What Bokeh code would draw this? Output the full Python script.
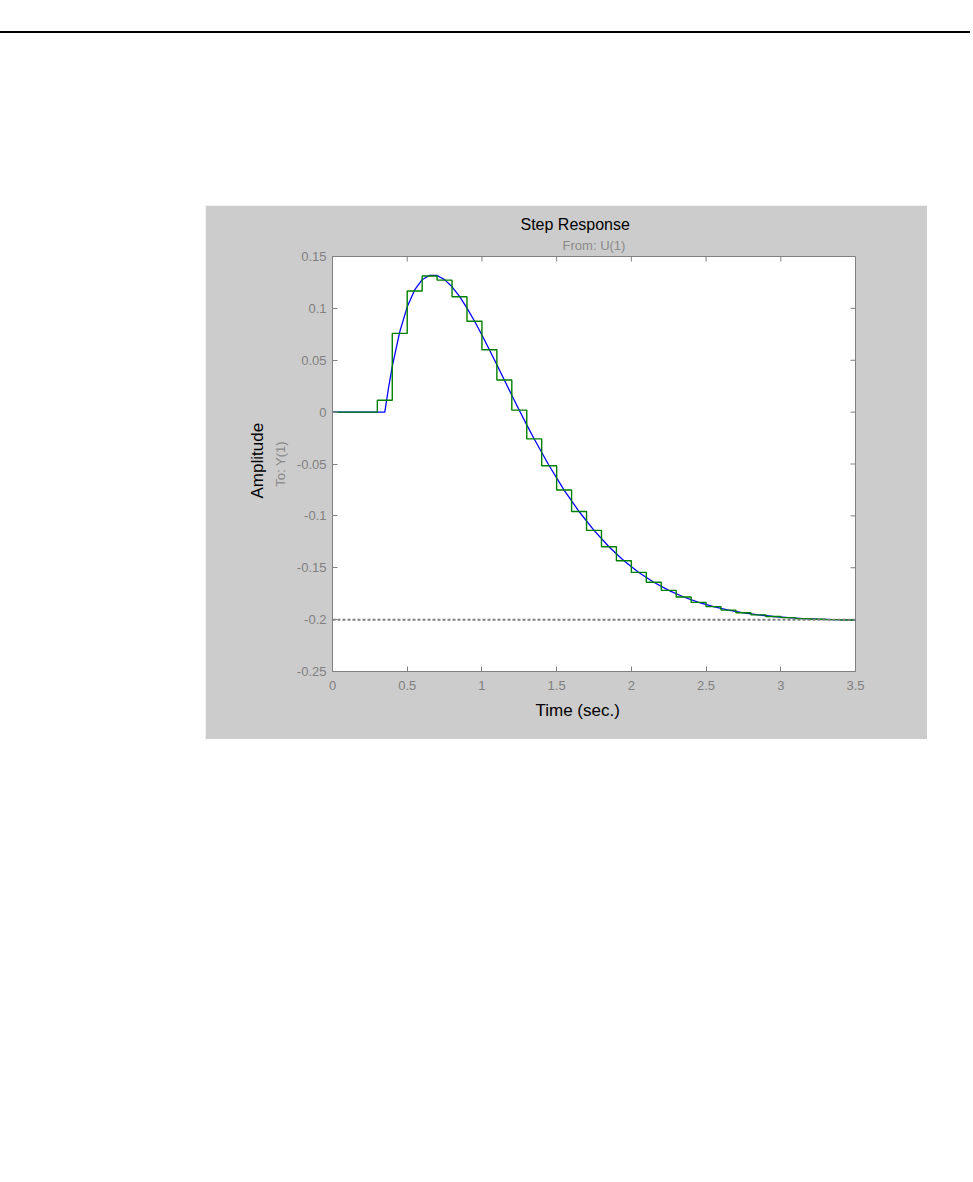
from bokeh.plotting import figure
from bokeh.models import (Range1d, FixedTicker, LinearAxis, Span, Div, Spacer, Title)
from bokeh.layouts import column, row
from bokeh.embed import file_html
from bokeh.resources import INLINE

# ---------------- data ----------------
# continuous-time step response (blue)
t_cont = [0.0, 0.35, 0.375, 0.40, 0.45, 0.50, 0.55, 0.60, 0.65, 0.70, 0.75, 0.80,
          0.85, 0.90, 0.95, 1.00, 1.05, 1.10, 1.15, 1.20, 1.25, 1.30, 1.35,
          1.45, 1.55, 1.65, 1.75, 1.85, 1.95, 2.05, 2.15, 2.25, 2.35, 2.45,
          2.55, 2.65, 2.75, 2.85, 2.95, 3.05, 3.15, 3.25, 3.35, 3.45, 3.50]
y_cont = [0.0, 0.0, 0.0235, 0.0441, 0.0774, 0.1015, 0.1178, 0.1276, 0.1319, 0.1317,
          0.1277, 0.1208, 0.1115, 0.1003, 0.0878, 0.0743, 0.0601, 0.0456, 0.0309,
          0.0163, 0.0018, -0.0123, -0.0259,
          -0.0517, -0.0751, -0.0958, -0.1140, -0.1298, -0.1432, -0.1545, -0.1640,
          -0.1718, -0.1782, -0.1834, -0.1875, -0.1908, -0.1934, -0.1954, -0.1970,
          -0.1981, -0.1990, -0.1996, -0.2000, -0.2003, -0.2004]

# discretized step response (green stairs), sample time 0.1 s
t_disc = [0.0, 0.1, 0.2, 0.3, 0.4, 0.5, 0.6, 0.7, 0.8, 0.9, 1.0, 1.1, 1.2, 1.3,
          1.4, 1.5, 1.6, 1.7, 1.8, 1.9, 2.0, 2.1, 2.2, 2.3, 2.4, 2.5, 2.6, 2.7,
          2.8, 2.9, 3.0, 3.1, 3.2, 3.3, 3.4]
y_disc = [0.0, 0.0, 0.0, 0.0115, 0.0759, 0.1167, 0.1312, 0.1272, 0.1112, 0.0876,
          0.0601, 0.0309, 0.0019, -0.0258, -0.0517, -0.0751, -0.0958, -0.1140,
          -0.1298, -0.1432, -0.1545, -0.1640, -0.1718, -0.1782, -0.1834, -0.1875,
          -0.1908, -0.1934, -0.1954, -0.1970, -0.1981, -0.1990, -0.1996, -0.2000,
          -0.2003]

steady_state = -0.2

x_ticks = [0, 0.5, 1, 1.5, 2, 2.5, 3, 3.5]
x_tick_labels = ["0", "0.5", "1", "1.5", "2", "2.5", "3", "3.5"]
y_ticks = [-0.25, -0.2, -0.15, -0.1, -0.05, 0, 0.05, 0.1, 0.15]
y_tick_labels = ["-0.25", "-0.2", "-0.15", "-0.1", "-0.05", "0", "0.05", "0.1", "0.15"]

title_text = "Step Response"
from_text = "From: U(1)"
to_text = "To: Y(1)"
xlabel_text = "Time (sec.)"
ylabel_text = "Amplitude"

# ---------------- figure ----------------
FONT = "Liberation Sans"
GRAY = "#808080"
SUBGRAY = "#8a8a8a"
PANEL = "#cccccc"

x0, x1 = x_ticks[0], x_ticks[-1]
y0, y1 = y_ticks[0], y_ticks[-1]
FRAME_W, FRAME_H = 523.0, 415.0

p = figure(width=722, height=534, output_backend="svg", toolbar_location=None,
           x_range=Range1d(x0, x1), y_range=Range1d(y0, y1),
           x_axis_location=None, y_axis_location=None,
           min_border_left=127, min_border_right=72,
           min_border_top=51, min_border_bottom=68)
p.title = None
p.border_fill_color = PANEL
p.background_fill_color = "white"
p.outline_line_color = GRAY
p.outline_line_width = 1
p.grid.visible = False


def make_axis(ticks, labels, standoff):
    ax = LinearAxis(ticker=FixedTicker(ticks=ticks),
                    major_label_overrides={t: l for t, l in zip(ticks, labels)})
    ax.axis_line_color = GRAY
    ax.major_tick_line_color = GRAY
    ax.major_tick_in = 5
    ax.major_tick_out = 0
    ax.minor_tick_line_color = None
    ax.major_label_text_font = FONT
    ax.major_label_text_color = GRAY
    ax.major_label_text_font_size = "13px"
    ax.major_label_standoff = standoff
    ax.axis_label_text_font = FONT
    ax.axis_label_text_font_style = "normal"
    return ax


xaxis = make_axis(x_ticks, x_tick_labels, 9)
p.add_layout(xaxis, "below")

yaxis = make_axis(y_ticks, y_tick_labels, 6)
yaxis.axis_label = to_text
yaxis.axis_label_text_font_size = "13px"
yaxis.axis_label_text_color = SUBGRAY
yaxis.axis_label_standoff = 6
p.add_layout(yaxis, "left")

# x-axis label as a title below the axis
p.add_layout(Title(text=xlabel_text, align="left", offset=203, standoff=12,
                   text_font=FONT, text_font_size="17px",
                   text_font_style="normal", text_color="black"), "below")

# left outer title: Amplitude
p.add_layout(Title(text=ylabel_text, align="left", offset=173, standoff=6,
                   text_font=FONT, text_font_size="17px",
                   text_font_style="normal", text_color="black"), "left")

# titles above (first added is nearest to the frame)
p.add_layout(Title(text=from_text, align="center", standoff=7,
                   text_font=FONT, text_font_size="13px",
                   text_font_style="normal", text_color=SUBGRAY), "above")
p.add_layout(Title(text=title_text, align="left", offset=188, standoff=0,
                   text_font=FONT, text_font_size="16px",
                   text_font_style="normal", text_color="black"), "above")

# inward ticks on the top and right edges of the box
tick_len_x = 5 * (x1 - x0) / FRAME_W
tick_len_y = 5 * (y1 - y0) / FRAME_H
p.segment(x0=x_ticks, y0=[y1] * len(x_ticks), x1=x_ticks,
          y1=[y1 - tick_len_y] * len(x_ticks), line_color=GRAY, line_width=1)
p.segment(x0=[x1] * len(y_ticks), y0=y_ticks, x1=[x1 - tick_len_x] * len(y_ticks),
          y1=y_ticks, line_color=GRAY, line_width=1)

# steady-state reference
p.add_layout(Span(location=steady_state, dimension="width", line_color=GRAY,
                  line_width=2, line_dash="3 2"))

# curves
p.line(t_cont, y_cont, line_color="#0000ff", line_width=1.3)
p.step(t_disc + [x1], y_disc + [y_disc[-1]], mode="after",
       line_color="#008000", line_width=1.4)

top = Div(text=(
    '<div style="position:relative;width:957px;height:195px;">'
    '<div style="position:absolute;left:-8px;top:26px;width:973px;height:2px;background:#000;"></div>'
    '<div style="position:absolute;left:-8px;top:26px;width:2px;height:34px;background:#000;"></div>'
    '</div>'), width=957, height=195)

layout = column(top, row(Spacer(width=205, height=534), p))

open("out.html", "w").write(file_html(layout, INLINE))
